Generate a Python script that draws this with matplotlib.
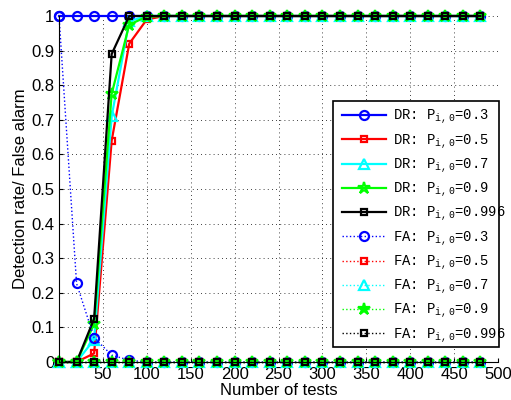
import matplotlib
matplotlib.use('Agg')
import matplotlib.pyplot as plt
from matplotlib.patches import Rectangle
import numpy as np

plt.rcParams['font.family'] = ['Liberation Sans', 'DejaVu Sans']

## data
tests = list(range(0, 500, 20))  # 0, 20, ..., 480
n = len(tests)

dr_03 = [1.0] * n
dr_05 = [0, 0, 0.025, 0.64, 0.92, 0.99] + [1.0] * (n - 6)
dr_07 = [0, 0, 0.065, 0.71, 0.985, 1.0] + [1.0] * (n - 6)
dr_09 = [0, 0, 0.11, 0.775, 0.975, 0.998] + [1.0] * (n - 6)
dr_0996 = [0, 0, 0.125, 0.89, 1.0, 1.0] + [1.0] * (n - 6)

fa_03 = [1.0, 0.227, 0.07, 0.02, 0.005] + [0.0] * (n - 5)
fa_05 = [0.0] * n
fa_07 = [0.0] * n
fa_09 = [0.0] * n
fa_0996 = [0.0] * n

p_labels = ['0.3', '0.5', '0.7', '0.9', '0.996']
colors = ['blue', 'red', 'cyan', 'lime', 'black']
markers = ['o', 's', '^', '*', 's']
msizes = [6.5, 5, 6.5, 9, 5]

fig = plt.figure(figsize=(5.11, 4.00), dpi=100)
ax = fig.add_axes([59/511, 1 - 362/400, (498-59)/511, (362-16)/400])

mfont = {'family': 'Liberation Mono', 'size': 10}

dr_all = [dr_03, dr_05, dr_07, dr_09, dr_0996]
fa_all = [fa_03, fa_05, fa_07, fa_09, fa_0996]

for y, c, m, ms, p in zip(dr_all, colors, markers, msizes, p_labels):
    ax.plot(tests, y, color=c, marker=m, markersize=ms, markerfacecolor='none',
            markeredgewidth=1.6, linewidth=1.6, clip_on=False,
            label='DR: P$_{\\mathregular{i,0}}$=' + p)

for y, c, m, ms, p in zip(fa_all, colors, markers, msizes, p_labels):
    mfc = 'lime' if m == '*' else 'none'
    ax.plot(tests, y, color=c, marker=m, markersize=ms, markerfacecolor=mfc,
            markeredgewidth=1.6, linewidth=1.0, linestyle=':', clip_on=False,
            label='FA: P$_{\\mathregular{i,0}}$=' + p)

ax.set_xlim(0, 500)
ax.set_ylim(0, 1)
ax.set_xticks(range(50, 501, 50))
ax.set_yticks(np.arange(0, 1.01, 0.1))
ax.set_yticklabels(['0', '0.1', '0.2', '0.3', '0.4', '0.5', '0.6', '0.7', '0.8', '0.9', '1'])
ax.tick_params(labelsize=12, direction='in', length=3)
ax.grid(True, color='black', linestyle=(0, (1, 4)), linewidth=0.6)
ax.spines['top'].set_visible(False)
ax.spines['right'].set_visible(False)

ax.set_xlabel('Number of tests', fontsize=12, labelpad=1)
ax.set_ylabel('Detection rate/ False alarm', fontsize=12, labelpad=2)

# legend box (text runs a bit past the frame like the original)
box = Rectangle((333/511, 1 - 347/400), (499-333)/511, (347-101)/400,
                transform=fig.transFigure, facecolor='white', edgecolor='black',
                linewidth=1.2, clip_on=False, zorder=4)
ax.add_patch(box)

leg = ax.legend(loc='upper left', bbox_to_anchor=(342/511, 1 - 108/400),
                bbox_transform=fig.transFigure, prop=mfont, frameon=False,
                handlelength=3.2, labelspacing=0.43, borderpad=0,
                borderaxespad=0, handletextpad=0.45)
leg.set_zorder(5)

plt.savefig('out.png', dpi=100)
